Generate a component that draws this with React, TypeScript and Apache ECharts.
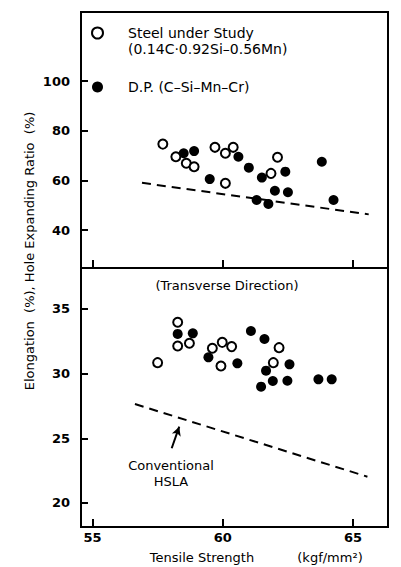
import React, { useEffect, useRef } from "react";
import * as echarts from "echarts";

// Tensile strength (kgf/mm2) vs hole expanding ratio (%) — upper panel
const steelHoleExpansion: [number, number][] = [
  [57.7, 74.6], [58.2, 69.5], [58.6, 66.9], [58.9, 65.5], [59.7, 73.3],
  [60.1, 70.9], [60.4, 73.3], [60.1, 58.8], [62.1, 69.3], [61.85, 62.8],
];
const dpHoleExpansion: [number, number][] = [
  [58.5, 70.9], [58.9, 71.8], [60.6, 69.5], [61.0, 65.1], [59.5, 60.5],
  [61.5, 61.1], [62.4, 63.5], [62.0, 55.8], [62.5, 55.2], [61.3, 52.1],
  [61.75, 50.5], [63.8, 67.5], [64.25, 52.1],
];
const hslaHoleExpansion: [number, number][] = [[56.9, 59.0], [65.6, 46.3]];

// Tensile strength vs elongation (%) — lower panel (transverse direction)
const steelElongation: [number, number][] = [
  [57.5, 30.85], [58.27, 33.97], [58.27, 32.14], [58.72, 32.35], [59.6, 31.96],
  [59.98, 32.42], [60.34, 32.09], [59.93, 30.59], [62.16, 32.01], [61.94, 30.85],
];
const dpElongation: [number, number][] = [
  [58.27, 33.07], [58.85, 33.12], [59.45, 31.26], [60.56, 30.8], [61.08, 33.3],
  [61.6, 32.68], [61.66, 30.23], [61.47, 28.99], [61.92, 29.43], [62.56, 30.72],
  [62.48, 29.45], [63.67, 29.56], [64.18, 29.56],
];
const hslaElongation: [number, number][] = [[56.63, 27.65], [65.55, 22.03]];
const hslaArrow: [number, number][] = [[58.04, 24.23], [58.33, 25.9]];

const xTicks = [55, 60, 65];
const holeTicks = [40, 60, 80, 100];
const elongTicks = [20, 25, 30, 35];

const STEEL = "Steel under Study";
const DP = "D.P. (C\u2013Si\u2013Mn\u2013Cr)";
const FONT = "DejaVu Sans";

export default function App() {
  const ref = useRef<HTMLDivElement>(null);
  useEffect(() => {
    if (!ref.current) return;
    const chart = echarts.init(ref.current, undefined, { renderer: "svg" });
    const xAxisBase = (gridIndex: number, showLabel: boolean) => ({
      type: "value" as const,
      gridIndex,
      min: 54.56,
      max: 66.34,
      axisLine: { show: false },
      splitLine: { show: false },
      axisTick: {
        show: true,
        inside: true,
        length: 8,
        customValues: xTicks,
        lineStyle: { color: "#000", width: 2 },
      },
      axisLabel: {
        show: showLabel,
        customValues: xTicks,
        margin: 4,
        color: "#000",
        fontFamily: FONT,
        fontWeight: "bold" as const,
        fontSize: 13,
      },
    });
    const yAxisBase = (gridIndex: number, min: number, max: number, ticks: number[]) => ({
      type: "value" as const,
      gridIndex,
      min,
      max,
      axisLine: { show: false },
      splitLine: { show: false },
      axisTick: {
        show: true,
        inside: true,
        length: 7,
        customValues: ticks,
        lineStyle: { color: "#000", width: 2 },
      },
      axisLabel: {
        customValues: ticks,
        margin: 11,
        color: "#000",
        fontFamily: FONT,
        fontWeight: "bold" as const,
        fontSize: 13,
      },
    });
    const openStyle = { color: "#fff", borderColor: "#000", borderWidth: 2, opacity: 1 };
    const filledStyle = { color: "#000", opacity: 1 };
    chart.setOption({
      animation: false,
      backgroundColor: "#fff",
      grid: [
        { left: 81, top: 12, width: 307, height: 256, show: true, borderColor: "#000", borderWidth: 2, backgroundColor: "transparent" },
        { left: 81, top: 268, width: 307, height: 259, show: true, borderColor: "#000", borderWidth: 2, backgroundColor: "transparent" },
      ],
      xAxis: [xAxisBase(0, false), xAxisBase(1, true)],
      yAxis: [yAxisBase(0, 24.7, 127.8, holeTicks), yAxisBase(1, 18.14, 38.17, elongTicks)],
      legend: {
        orient: "vertical",
        left: 91,
        top: 26,
        padding: 0,
        itemGap: 40,
        itemWidth: 11,
        itemHeight: 11,
        selectedMode: false,
        data: [
          { name: STEEL, icon: "circle", itemStyle: openStyle },
          { name: DP, icon: "circle", itemStyle: filledStyle },
        ],
        textStyle: { fontFamily: FONT, fontSize: 14, color: "#000", padding: [0, 0, 0, 20] },
      },
      series: [
        {
          name: "Conventional HSLA",
          type: "line",
          xAxisIndex: 0,
          yAxisIndex: 0,
          data: hslaHoleExpansion,
          symbol: "none",
          lineStyle: { color: "#000", width: 2, type: [9, 6] },
        },
        {
          name: DP,
          type: "scatter",
          xAxisIndex: 0,
          yAxisIndex: 0,
          data: dpHoleExpansion,
          symbolSize: 10,
          itemStyle: filledStyle,
        },
        {
          name: STEEL,
          type: "scatter",
          xAxisIndex: 0,
          yAxisIndex: 0,
          data: steelHoleExpansion,
          symbolSize: 9,
          itemStyle: openStyle,
        },
        {
          name: "Conventional HSLA",
          type: "line",
          xAxisIndex: 1,
          yAxisIndex: 1,
          data: hslaElongation,
          symbol: "none",
          lineStyle: { color: "#000", width: 2, type: [9, 6] },
          markLine: {
            silent: true,
            symbol: ["none", "arrow"],
            symbolSize: [7, 9],
            label: { show: false },
            lineStyle: { color: "#000", width: 2, type: "solid" },
            data: [[{ coord: hslaArrow[0] }, { coord: hslaArrow[1] }]],
          },
        },
        {
          name: DP,
          type: "scatter",
          xAxisIndex: 1,
          yAxisIndex: 1,
          data: dpElongation,
          symbolSize: 10,
          itemStyle: filledStyle,
        },
        {
          name: STEEL,
          type: "scatter",
          xAxisIndex: 1,
          yAxisIndex: 1,
          data: steelElongation,
          symbolSize: 9,
          itemStyle: openStyle,
        },
      ],
      graphic: [
        {
          type: "text",
          left: 128,
          top: 42,
          style: { text: "(0.14C\u00b70.92Si\u20130.56Mn)", fontFamily: FONT, fontSize: 14, fill: "#000" },
        },
        {
          type: "text",
          x: 227,
          y: 285,
          style: { text: "(Transverse Direction)", fontFamily: FONT, fontSize: 13, fill: "#000", align: "center", verticalAlign: "middle" },
        },
        {
          type: "text",
          x: 171,
          y: 473,
          style: { text: "Conventional\nHSLA", fontFamily: FONT, fontSize: 13, lineHeight: 16, fill: "#000", align: "center", verticalAlign: "middle" },
        },
        {
          type: "text",
          x: 29,
          y: 251,
          rotation: Math.PI / 2,
          style: { text: "Elongation  (%), Hole Expanding Ratio  (%)", fontFamily: FONT, fontSize: 13, fill: "#000", align: "center", verticalAlign: "middle" },
        },
        {
          type: "text",
          x: 202,
          y: 557,
          style: { text: "Tensile Strength", fontFamily: FONT, fontSize: 13, fill: "#000", align: "center", verticalAlign: "middle" },
        },
        {
          type: "text",
          x: 330,
          y: 557,
          style: { text: "(kgf/mm\u00b2)", fontFamily: FONT, fontSize: 13, fill: "#000", align: "center", verticalAlign: "middle" },
        },
      ],
    });
    return () => chart.dispose();
  }, []);
  return (
    <div
      ref={ref}
      style={{ position: "fixed", left: 0, top: 0, width: 401, height: 567, background: "#fff" }}
    />
  );
}
